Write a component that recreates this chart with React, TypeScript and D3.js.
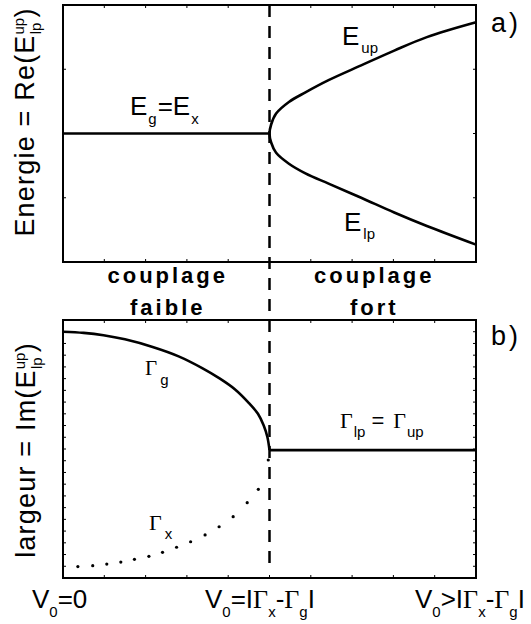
import React from 'react';
import * as d3 from 'd3';

const W = 531;
const H = 624;

// x positions (0 = V0=0, 0.5 = V0=|Γx-Γg|, 1 = V0>|Γx-Γg|)
const xTickValues = [0.1, 0.2, 0.3, 0.4, 0.5, 0.6, 0.7, 0.8, 0.9];
const topYTickValues = [1, 2, 3];
const botYTickValues = [1, 2, 3, 4, 5, 6, 7, 8, 9, 10, 11, 12, 13, 14, 15, 16, 17, 18, 19, 20, 21];

// panel a) energies
const flatEnergyX = [0, 0.5];
const flatEnergyV = [2.0, 2.0];
const branchX = [0.5, 0.504, 0.516, 0.547, 0.587, 0.643, 0.722, 0.802, 0.881, 1.0];
const upperV = [2.0, 2.14, 2.31, 2.49, 2.64, 2.83, 3.06, 3.29, 3.5, 3.73];
const lowerV = [2.0, 1.86, 1.7, 1.53, 1.38, 1.22, 1.0, 0.77, 0.56, 0.27];

// panel b) widths
const gammaGX = [0, 0.05, 0.098, 0.15, 0.217, 0.28, 0.337, 0.38, 0.416, 0.448, 0.472, 0.486, 0.495, 0.5];
const gammaGV = [21.0, 20.9, 20.7, 20.35, 19.7, 18.9, 17.9, 17.0, 16.1, 15.0, 14.0, 13.0, 12.0, 10.9];
const gammaPolX = [0.5, 1.0];
const gammaPolV = [10.9, 10.9];
const gammaXX = [0.036, 0.072, 0.106, 0.14, 0.173, 0.208, 0.241, 0.275, 0.309, 0.344, 0.378, 0.412, 0.446, 0.473, 0.497];
const gammaXV = [0.97, 1.05, 1.19, 1.36, 1.59, 1.85, 2.19, 2.62, 3.09, 3.67, 4.37, 5.23, 6.42, 7.56, 10.06];

const SANS = 'Liberation Sans, Arial, sans-serif';
const SERIF = 'Liberation Serif, Times New Roman, serif';

const x = d3.scaleLinear().domain([0, 1]).range([63, 476]);
const yTop = d3.scaleLinear().domain([0, 4]).range([262, 5]);
const yBot = d3.scaleLinear().domain([0, 22]).range([578, 320]);

type P = [number, number];
const zip = (xs: number[], vs: number[]): P[] => xs.map((d, i) => [d, vs[i]]);

function Frame({ y, yTicks }: { y: d3.ScaleLinear<number, number>; yTicks: number[] }) {
  const [y0, y1] = y.range();
  const [x0, x1] = x.range();
  const tl = 3;
  return (
    <g stroke="#000" fill="none">
      {xTickValues.map((t) => (
        <g key={'x' + t} strokeWidth={1}>
          <line x1={x(t)} x2={x(t)} y1={y1} y2={y1 + tl} />
          <line x1={x(t)} x2={x(t)} y1={y0} y2={y0 - tl} />
        </g>
      ))}
      {yTicks.map((t) => (
        <g key={'y' + t} strokeWidth={1}>
          <line x1={x0} x2={x0 + tl} y1={y(t)} y2={y(t)} />
          <line x1={x1} x2={x1 - tl} y1={y(t)} y2={y(t)} />
        </g>
      ))}
      <rect x={x0} y={y1} width={x1 - x0} height={y0 - y1} strokeWidth={2} />
    </g>
  );
}

export default function App() {
  const lineTop = d3.line<P>().x((d) => x(d[0])).y((d) => yTop(d[1]));
  const branchPts: P[] = [
    ...zip(branchX, lowerV).reverse(),
    ...zip(branchX, upperV).slice(1),
  ];
  const branchPath = d3
    .line<P>()
    .x((d) => x(d[0]))
    .y((d) => yTop(d[1]))
    .curve(d3.curveCatmullRom.alpha(0.5))(branchPts);
  const gPath = d3
    .line<P>()
    .x((d) => x(d[0]))
    .y((d) => yBot(d[1]))
    .curve(d3.curveCatmullRom.alpha(0.5))(zip(gammaGX, gammaGV));
  const polPath = d3.line<P>().x((d) => x(d[0])).y((d) => yBot(d[1]))(zip(gammaPolX, gammaPolV));

  const sub = 15;
  return (
    <svg
      width={W}
      height={H}
      style={{ position: 'absolute', left: 0, top: 0, background: '#fff' }}
      fontFamily={SANS}
    >
      <rect x={0} y={0} width={W} height={H} fill="#fff" />
      <Frame y={yTop} yTicks={topYTickValues} />
      <Frame y={yBot} yTicks={botYTickValues} />

      {/* dashed separator */}
      <line
        x1={x(0.5)}
        x2={x(0.5)}
        y1={yTop(4)}
        y2={566}
        stroke="#000"
        strokeWidth={2.5}
        strokeDasharray="12 9"
      />

      {/* curves */}
      <path d={lineTop(zip(flatEnergyX, flatEnergyV)) || ''} stroke="#000" strokeWidth={2.6} fill="none" />
      <path d={branchPath || ''} stroke="#000" strokeWidth={2.6} fill="none" />
      <path d={gPath || ''} stroke="#000" strokeWidth={2.6} fill="none" />
      <path d={polPath || ''} stroke="#000" strokeWidth={2.6} fill="none" />
      {gammaXX.map((d, i) => (
        <circle key={i} cx={x(d)} cy={yBot(gammaXV[i])} r={1.6} fill="#000" />
      ))}

      {/* panel labels */}
      <text x={491} y={32} fontSize={27}>a<tspan dx={3}>)</tspan></text>
      <text x={491} y={345} fontSize={27}>b<tspan dx={3}>)</tspan></text>

      {/* curve labels, panel a */}
      <text x={130} y={115} fontSize={26}>
        E<tspan fontSize={sub} dy={9} dx={1}>g</tspan>
        <tspan dy={-9} dx={1}>=E</tspan>
        <tspan fontSize={sub} dy={9} dx={1}>x</tspan>
      </text>
      <text x={342} y={45} fontSize={26}>
        E<tspan fontSize={sub} dy={8} dx={2}>up</tspan>
      </text>
      <text x={344} y={231} fontSize={26}>
        E<tspan fontSize={sub} dy={8} dx={2}>lp</tspan>
      </text>

      {/* regime labels */}
      <g fontWeight="bold" fontSize={22} letterSpacing={3} textAnchor="middle">
        <text x={x(0.25) + 1.5} y={283}>couplage</text>
        <text x={x(0.25) + 1.5} y={315}>faible</text>
        <text x={x(0.75) + 1.5} y={283}>couplage</text>
        <text x={x(0.75) + 1.5} y={315}>fort</text>
      </g>

      {/* curve labels, panel b */}
      <text x={145} y={375} fontSize={21} fontFamily={SERIF}>
        Γ<tspan fontFamily={SANS} fontSize={sub} dy={10} dx={3}>g</tspan>
      </text>
      <text x={149} y={530} fontSize={22} fontFamily={SERIF}>
        Γ<tspan fontFamily={SANS} fontSize={sub} dy={9} dx={3}>x</tspan>
      </text>
      <text x={340} y={428} fontSize={22} fontFamily={SERIF}>
        Γ<tspan fontFamily={SANS} fontSize={sub} dy={9} dx={1}>lp</tspan>
        <tspan fontFamily={SANS} fontSize={22} dy={-9} dx={6}>=</tspan>
        <tspan dx={9}>Γ</tspan>
        <tspan fontFamily={SANS} fontSize={sub} dy={9} dx={1}>up</tspan>
      </text>

      {/* x axis labels */}
      <g fontSize={26}>
        <text x={32} y={608}>
          V<tspan fontSize={sub} dy={9}>0</tspan>
          <tspan dy={-9}>=0</tspan>
        </text>
        <text x={205} y={608}>
          V<tspan fontSize={sub} dy={9}>0</tspan>
          <tspan dy={-9}>=I</tspan>
          <tspan fontFamily={SERIF}>Γ</tspan>
          <tspan fontSize={sub} dy={9}>x</tspan>
          <tspan dy={-9}>-</tspan>
          <tspan fontFamily={SERIF}>Γ</tspan>
          <tspan fontSize={sub} dy={9}>g</tspan>
          <tspan dy={-9}>I</tspan>
        </text>
        <text x={415} y={608}>
          V<tspan fontSize={sub} dy={9}>0</tspan>
          <tspan dy={-9}>&gt;I</tspan>
          <tspan fontFamily={SERIF}>Γ</tspan>
          <tspan fontSize={sub} dy={9}>x</tspan>
          <tspan dy={-9}>-</tspan>
          <tspan fontFamily={SERIF}>Γ</tspan>
          <tspan fontSize={sub} dy={9}>g</tspan>
          <tspan dy={-9}>I</tspan>
        </text>
      </g>

      {/* y axis labels */}
      <text transform="translate(34,122) rotate(-90)" textAnchor="middle" fontSize={27} letterSpacing={1.2}>
        Energie = Re(E<tspan fontSize={sub} dy={-10} letterSpacing={0}>up</tspan>
        <tspan fontSize={sub} dy={17} dx={-16.5} letterSpacing={0}>lp</tspan>
        <tspan dy={-7} dx={5}>)</tspan>
      </text>
      <text transform="translate(35,450) rotate(-90)" textAnchor="middle" fontSize={27} letterSpacing={1.2}>
        largeur = Im(E<tspan fontSize={sub} dy={-10} letterSpacing={0}>up</tspan>
        <tspan fontSize={sub} dy={17} dx={-16.5} letterSpacing={0}>lp</tspan>
        <tspan dy={-7} dx={5}>)</tspan>
      </text>
    </svg>
  );
}
